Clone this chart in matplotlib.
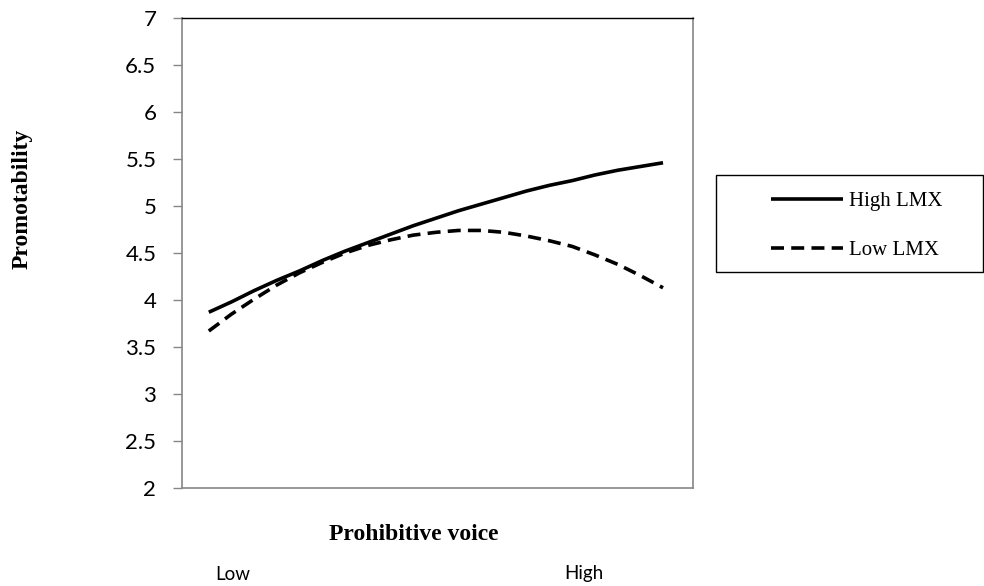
import matplotlib
matplotlib.use("Agg")
import matplotlib.pyplot as plt
from matplotlib.patches import Rectangle

# values, x is prohibitive voice from low (0) to high (1)
voice = [0.0, 0.05, 0.1, 0.15, 0.2, 0.25, 0.3, 0.35, 0.4, 0.45, 0.5,
         0.55, 0.6, 0.65, 0.7, 0.75, 0.8, 0.85, 0.9, 0.95, 1.0]
high_lmx = [3.87, 3.98, 4.10, 4.21, 4.31, 4.42, 4.52, 4.61, 4.70, 4.79, 4.87,
            4.95, 5.02, 5.09, 5.16, 5.22, 5.27, 5.33, 5.38, 5.42, 5.46]
low_lmx = [3.67, 3.85, 4.01, 4.16, 4.29, 4.40, 4.50, 4.58, 4.64, 4.69, 4.72,
           4.74, 4.74, 4.72, 4.68, 4.63, 4.57, 4.48, 4.38, 4.26, 4.13]
y_ticks = [2, 2.5, 3, 3.5, 4, 4.5, 5, 5.5, 6, 6.5, 7]
y_ticklabels = ["2", "2.5", "3", "3.5", "4", "4.5", "5", "5.5", "6", "6.5", "7"]

gray = "#868686"
sans = "Lato"
serif = "Liberation Serif"

fig = plt.figure(figsize=(9.84, 5.86), dpi=100)
ax = fig.add_axes([182 / 984, 1 - 488 / 586, (693 - 182) / 984, (488 - 18) / 586])

ax.plot(voice, high_lmx, color="black", lw=2.6, solid_capstyle="butt", label="High LMX")
ax.plot(voice, low_lmx, color="black", lw=2.6, dashes=(3.6, 2.0), label="Low LMX")

ax.set_xlim(-0.059, 1.066)
ax.set_ylim(2, 7)
ax.set_yticks(y_ticks)
ax.set_yticklabels(y_ticklabels, fontfamily=sans, fontsize=16)
ax.set_xticks([])
ax.tick_params(axis="y", direction="out", length=6.5, width=1, color=gray, pad=12)

for side in ["left", "bottom", "right"]:
    ax.spines[side].set_color(gray)
    ax.spines[side].set_linewidth(1.2)
ax.spines["top"].set_color("black")
ax.spines["top"].set_linewidth(1)

# axis titles
fig.text(22 / 984, 1 - 199 / 586, "Promotability", rotation=90, ha="center", va="center",
         fontfamily=serif, fontweight="bold", fontsize=17)
fig.text(414 / 984, 1 - 535 / 586, "Prohibitive voice", ha="center", va="center",
         fontfamily=serif, fontweight="bold", fontsize=17)
fig.text(233 / 984, 1 - 574 / 586, "Low", ha="center", va="center", fontfamily=sans, fontsize=13.5)
fig.text(584 / 984, 1 - 574 / 586, "High", ha="center", va="center", fontfamily=sans, fontsize=13.5)

# legend box
fig.patches.append(Rectangle((716 / 984, 1 - 272 / 586), (983 - 716) / 984, (272 - 175) / 586,
                             transform=fig.transFigure, fill=False, edgecolor="black", lw=1))
leg = fig.legend(loc="upper left", bbox_to_anchor=(752 / 984, 1 - 173 / 586), frameon=False,
                 handlelength=3.45, handletextpad=0.3, labelspacing=1.4,
                 prop={"family": serif, "size": 15})

fig.savefig("out.png", dpi=100)
